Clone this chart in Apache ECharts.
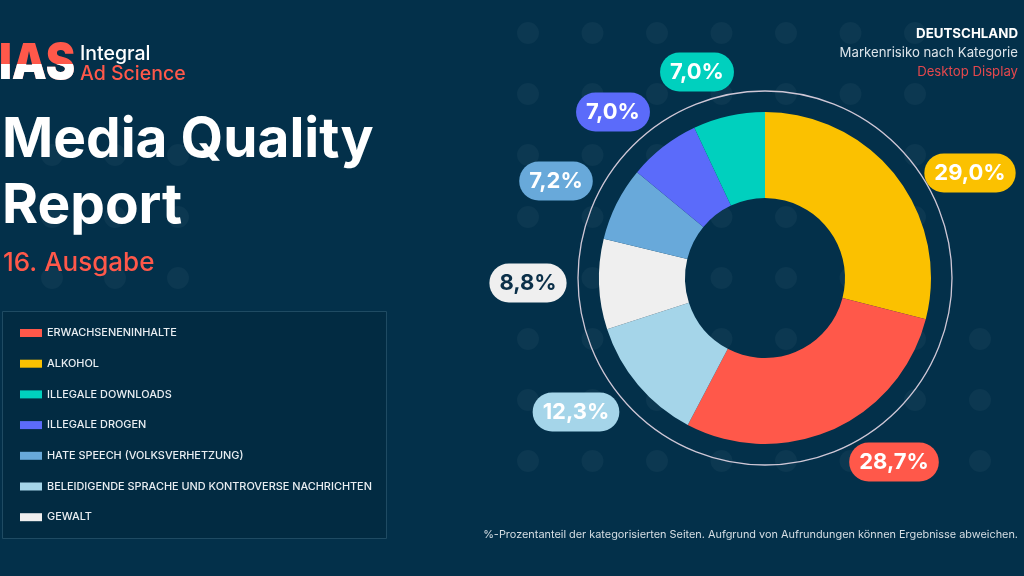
<!DOCTYPE html>
<html>
<head>
<meta charset="utf-8">
<script src="https://cdn.jsdelivr.net/npm/echarts@6/dist/echarts.min.js"></script>
<style>
  html, body { margin: 0; padding: 0; background: #03304A; }
  #chart { width: 1024px; height: 576px; }
</style>
</head>
<body>
<div id="chart"></div>
<script>
// ---- data ----
const categories = [
  'ALKOHOL',
  'ERWACHSENENINHALTE',
  'BELEIDIGENDE SPRACHE UND KONTROVERSE NACHRICHTEN',
  'GEWALT',
  'HATE SPEECH (VOLKSVERHETZUNG)',
  'ILLEGALE DROGEN',
  'ILLEGALE DOWNLOADS'
];
const values = [29.0, 28.7, 12.3, 8.8, 7.2, 7.0, 7.0];
const legendOrder = [
  'ERWACHSENENINHALTE',
  'ALKOHOL',
  'ILLEGALE DOWNLOADS',
  'ILLEGALE DROGEN',
  'HATE SPEECH (VOLKSVERHETZUNG)',
  'BELEIDIGENDE SPRACHE UND KONTROVERSE NACHRICHTEN',
  'GEWALT'
];

// ---- styles ----
const BG = '#03304A';
const colors = ['#FBC100', '#FF584A', '#A5D5E9', '#EFEFEF', '#68A9DA', '#5B6BFA', '#00D0BE'];
const labelTextColors = ['#FFFFFF', '#FFFFFF', '#FFFFFF', '#0B3049', '#FFFFFF', '#FFFFFF', '#FFFFFF'];
const CX = 765, CY = 278;
// label box centre offsets from the donut centre
const labelOffsets = [[205, -105], [129, 184], [-189, 134], [-237, 5], [-209, -97], [-152, -166], [-68, -206]];

const chart = echarts.init(document.getElementById('chart'), null, { renderer: 'canvas' });

// background dot pattern
const dots = [];
const colsX = [528, 592.5, 657, 721.5, 786, 850.5, 915];
const rowsY = [33, 94, 155, 217, 278, 339, 400, 461];
colsX.forEach(x => rowsY.forEach(y => dots.push({ x, y })));
[339, 400, 461].forEach(y => dots.push({ x: 980, y }));
[155, 217, 278].forEach(y => [52, 115, 178].forEach(x => dots.push({ x, y })));
const dotEls = dots.map(d => ({
  type: 'circle', z: -10, silent: true,
  shape: { cx: d.x, cy: d.y, r: 11 },
  style: { fill: 'rgba(255,255,255,0.04)' }
}));

const FONT = 'Inter, "Noto Sans", sans-serif';

const option = {
  backgroundColor: BG,
  animation: false,
  color: colors,
  legend: {
    orient: 'vertical',
    left: 15,
    top: 321,
    data: legendOrder,
    icon: 'rect',
    itemWidth: 22,
    itemHeight: 8,
    itemGap: 16.7,
    selectedMode: false,
    textStyle: { color: '#E9EEF2', fontSize: 10.9, fontFamily: FONT, fontWeight: 500, lineHeight: 14 }
  },
  graphic: [
    ...dotEls,
    // legend frame
    { type: 'rect', z: -5, silent: true, shape: { x: 2.5, y: 311.5, width: 384, height: 227 },
      style: { fill: '#022B42', stroke: '#1F4B63', lineWidth: 1 } },
    // outer thin ring
    { type: 'circle', z: 5, silent: true, shape: { cx: CX, cy: CY, r: 187 },
      style: { fill: 'none', stroke: '#CFC7D6', lineWidth: 1.3 } },
    // logo: white upper part, red lower part
    { type: 'text', z: 10, x: -1, y: 64, scaleX: 0.9, style: {
        text: 'IAS', font: '900 49px Inter, sans-serif', verticalAlign: 'middle', fill: '#FF584A' } },
    { type: 'text', z: 11, x: -1, y: 64, scaleX: 0.9,
      style: { text: 'IAS', font: '900 49px Inter, sans-serif', verticalAlign: 'middle', fill: '#FFFFFF' } },
    { type: 'text', z: 10, x: 80, y: 54, style: { text: 'Integral', font: '500 19.5px Inter, sans-serif', fill: '#FFFFFF', verticalAlign: 'middle' } },
    { type: 'text', z: 10, x: 80, y: 74, style: { text: 'Ad Science', font: '500 19.5px Inter, sans-serif', fill: '#FF584A', verticalAlign: 'middle' } },
    // title
    { type: 'text', z: 10, x: 2, y: 140, style: { text: 'Media Quality', font: '700 55px Inter, sans-serif', fill: '#FFFFFF', verticalAlign: 'middle' } },
    { type: 'text', z: 10, x: 2, y: 206, style: { text: 'Report', font: '700 55px Inter, sans-serif', fill: '#FFFFFF', verticalAlign: 'middle' } },
    { type: 'text', z: 10, x: 3, y: 263, style: { text: '16. Ausgabe', font: '500 26px Inter, sans-serif', fill: '#FF584A', verticalAlign: 'middle' } },
    // top right
    { type: 'text', z: 10, x: 1018, y: 34, style: { text: 'DEUTSCHLAND', font: '700 13.3px Inter, sans-serif', fill: '#FFFFFF', align: 'right', verticalAlign: 'middle' } },
    { type: 'text', z: 10, x: 1018, y: 53, style: { text: 'Markenrisiko nach Kategorie', font: '400 13.2px Inter, sans-serif', fill: '#DCE4EA', align: 'right', verticalAlign: 'middle' } },
    { type: 'text', z: 10, x: 1018, y: 72, style: { text: 'Desktop Display', font: '400 13.2px Inter, sans-serif', fill: '#E5484D', align: 'right', verticalAlign: 'middle' } },
    // footnote
    { type: 'text', z: 10, x: 1018, y: 535, style: { text: '%-Prozentanteil der kategorisierten Seiten. Aufgrund von Aufrundungen können Ergebnisse abweichen.', font: '400 10.9px Inter, sans-serif', fill: '#D6DEE4', align: 'right', verticalAlign: 'middle' } }
  ],
  series: [{
    type: 'pie',
    center: [CX, CY],
    radius: [80, 166],
    startAngle: 90,
    clockwise: true,
    avoidLabelOverlap: false,
    silent: true,
    emphasis: { disabled: true },
    itemStyle: { borderWidth: 0 },
    labelLine: { show: false },
    label: {
      show: true,
      position: 'outside',
      formatter: p => p.value.toFixed(1).replace('.', ',') + '%',
      fontFamily: FONT,
      fontWeight: 700,
      fontSize: 22,
      lineHeight: 27,
      padding: [6, 10, 6, 10],
      borderRadius: 20
    },
    labelLayout: p => ({
      x: CX + labelOffsets[p.dataIndex][0],
      y: CY + labelOffsets[p.dataIndex][1],
      align: 'center',
      verticalAlign: 'middle'
    }),
    data: categories.map((c, i) => ({
      name: c,
      value: values[i],
      label: { backgroundColor: colors[i], color: labelTextColors[i] }
    }))
  }]
};
chart.setOption(option);

// split-colour logo: clip the white "IAS" to its upper part
(function () {
  const zr = chart.getZr();
  zr.storage.getDisplayList(true).forEach(el => {
    if (el.style && el.style.text === 'IAS' && el.style.fill === '#FFFFFF') {
      el.setClipPath(new echarts.graphic.Rect({ shape: { x: -10, y: 0, width: 100, height: 71 } }));
    }
  });
  zr.refreshImmediately();
})();
</script>
</body>
</html>
